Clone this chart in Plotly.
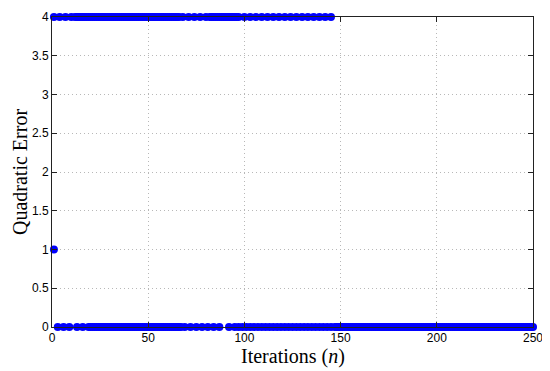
import plotly.graph_objects as go

# Iterations where the quadratic error equals 4
iter_err4 = [1, 4, 7, 10,
             12, 13, 14, 15, 16, 17, 18, 19, 20, 21, 22, 23, 24, 25, 26, 27, 28, 29, 30,
             31, 32, 33, 34, 35, 36, 37, 38, 39, 40, 41, 42, 43, 44, 45, 46, 47, 48, 49,
             50, 51, 52, 53, 54, 55, 56, 57, 58, 59, 60, 61, 62, 63, 64, 65, 66,
             68, 71, 74, 77, 80,
             82, 83, 84, 85, 86, 87, 88, 89, 90, 91, 92, 93, 94, 95, 96,
             97, 100, 103, 106, 109, 112, 115, 118, 121, 124, 127, 130, 133, 136, 139, 142, 145]
err4_values = [4] * len(iter_err4)

# Iterations where the quadratic error equals 0
iter_err0 = [3, 6, 9, 13, 16,
             19, 20, 21, 22, 23, 24, 25, 26, 27, 28, 29, 30, 31, 32, 33, 34, 35, 36, 37,
             38, 39, 40, 41, 42, 43, 44, 45, 46, 47, 48, 49, 50, 51, 52, 53, 54, 55, 56,
             57, 58, 59, 60, 61, 62, 63, 64, 65, 66, 67,
             69, 72, 75, 78, 81, 84, 87, 92,
             95, 97, 99, 101, 103, 105, 107, 109, 111, 113, 115, 117, 119, 121, 123, 125,
             127, 129, 131, 133, 135, 137, 139, 141, 143, 145, 147,
             148, 149, 150, 151, 152, 153, 154, 155, 156, 157, 158, 159, 160, 161, 162,
             163, 164, 165, 166, 167, 168, 169, 170, 171, 172, 173, 174, 175, 176, 177,
             178, 179, 180, 181, 182, 183, 184, 185, 186, 187, 188, 189, 190, 191, 192,
             193, 194, 195, 196, 197, 198, 199, 200, 201, 202, 203, 204, 205, 206, 207,
             208, 209, 210, 211, 212, 213, 214, 215, 216, 217, 218, 219, 220, 221, 222,
             223, 224, 225, 226, 227, 228, 229, 230, 231, 232, 233, 234, 235, 236, 237,
             238, 239, 240, 241, 242, 243, 244, 245, 246, 247, 248, 249, 250]
err0_values = [0] * len(iter_err0)

# Single point with error 1
iter_err1 = [1]
err1_values = [1]

x_ticks = [0, 50, 100, 150, 200, 250]
y_ticks = [0, 0.5, 1, 1.5, 2, 2.5, 3, 3.5, 4]
y_tick_labels = ["0", "0.5", "1", "1.5", "2", "2.5", "3", "3.5", "4"]

x_title = "Iterations (<i>n</i>)"
y_title = "Quadratic Error"

marker = dict(color="#0000ff", size=8, line=dict(width=0))

fig = go.Figure()
for xs, ys in [(iter_err4, err4_values), (iter_err0, err0_values), (iter_err1, err1_values)]:
    fig.add_trace(go.Scatter(x=xs, y=ys, mode="markers", marker=marker,
                             cliponaxis=False, showlegend=False, hoverinfo="skip"))

axis_common = dict(
    showline=True, linecolor="#222", linewidth=1, mirror="ticks",
    ticks="inside", ticklen=5, tickcolor="#222",
    showgrid=True, gridcolor="#b8b8b8", griddash="1px,3px", gridwidth=1,
    zeroline=False, automargin=False,
    tickfont=dict(family="Liberation Sans, Arial, sans-serif", size=12, color="#000"),
)

fig.update_xaxes(range=[0, 250], tickvals=x_ticks, ticktext=[str(v) for v in x_ticks],
                 **axis_common)
fig.update_yaxes(range=[0, 4], tickvals=y_ticks, ticktext=y_tick_labels,
                 **axis_common)

fig.add_annotation(text=x_title, xref="paper", yref="paper", x=0.5, y=0,
                   xanchor="center", yanchor="middle", yshift=-29,
                   showarrow=False,
                   font=dict(family="Liberation Serif, serif", size=20, color="#000"))
fig.add_annotation(text=y_title, xref="paper", yref="paper", x=0, y=0.5,
                   xanchor="center", yanchor="middle", xshift=-32, textangle=-90,
                   showarrow=False,
                   font=dict(family="Liberation Serif, serif", size=20, color="#000"))

# The page places the figure 8px from the top-left corner of the window.
fig.update_layout(width=538, height=363,
                  margin=dict(l=44, r=13, t=9, b=44),
                  paper_bgcolor="white", plot_bgcolor="white")

fig.write_html("out.html")
